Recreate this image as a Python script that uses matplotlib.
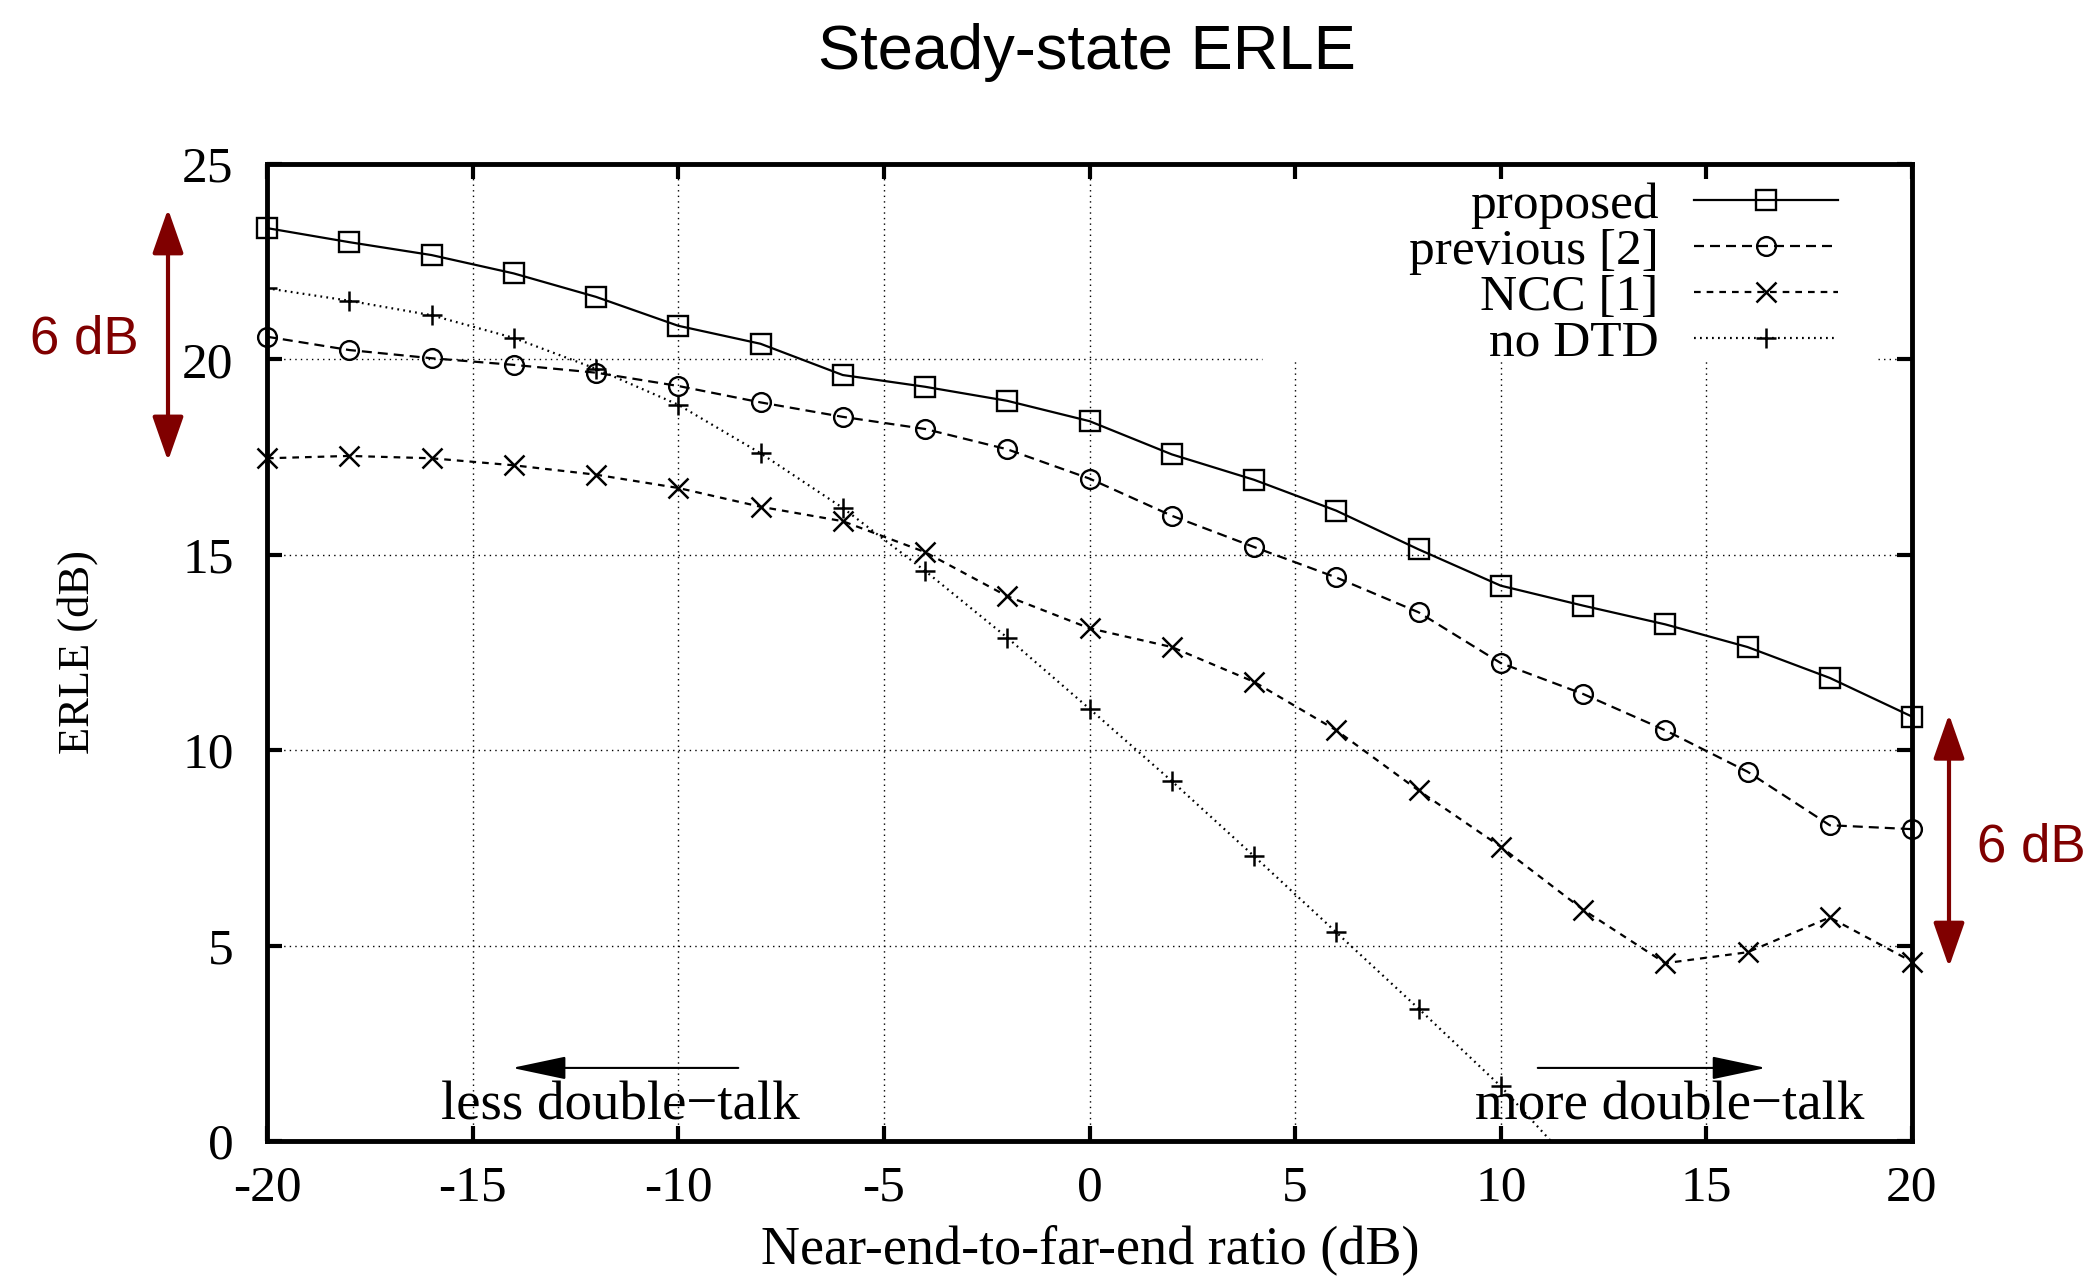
"""
Steady-state ERLE versus near-end-to-far-end ratio.
"""
import matplotlib
matplotlib.use("Agg")
import matplotlib.pyplot as plt
import matplotlib.transforms as mtransforms

# data
ratio = [-20, -18, -16, -14, -12, -10, -8, -6, -4, -2, 0,
         2, 4, 6, 8, 10, 12, 14, 16, 18, 20]
proposed = [23.36, 23.0, 22.67, 22.2, 21.6, 20.86, 20.4, 19.6, 19.3, 18.94, 18.42,
            17.57, 16.92, 16.13, 15.14, 14.21, 13.7, 13.22, 12.64, 11.85, 10.86]
previous = [20.58, 20.24, 20.03, 19.86, 19.66, 19.32, 18.9, 18.53, 18.22, 17.7, 16.95,
            16.0, 15.2, 14.42, 13.53, 12.23, 11.44, 10.51, 9.45, 8.08, 7.98]
ncc = [17.47, 17.53, 17.47, 17.29, 17.05, 16.71, 16.23, 15.86, 15.07, 13.94, 13.12,
       12.64, 11.75, 10.51, 8.97, 7.53, 5.92, 4.55, 4.83, 5.72, 4.59]
no_dtd_ratio = ratio[:17]
no_dtd = [21.82, 21.5, 21.13, 20.55, 19.76, 18.84, 17.6, 16.2, 14.59, 12.88, 11.06,
          9.21, 7.29, 5.34, 3.39, 1.40, -0.9]

xticks = [-20, -15, -10, -5, 0, 5, 10, 15, 20]
yticks = [0, 5, 10, 15, 20, 25]

plt.rcParams['font.family'] = 'Liberation Serif'
plt.rcParams['axes.unicode_minus'] = False

W, H = 2095, 1277
fig = plt.figure(figsize=(W / 100, H / 100), dpi=100)
L, R, T, B = 267, 1912, 164, 1141
ax = fig.add_axes([L / W, 1 - B / H, (R - L) / W, (B - T) / H])
ax.set_xlim(-20, 20)
ax.set_ylim(0, 25)
ax.set_xticks(xticks)
ax.set_yticks(yticks)
ax.tick_params(direction='in', length=11, width=3, top=True, right=True,
               labelsize=37)
ax.tick_params(axis='x', pad=17)
ax.tick_params(axis='y', pad=24)
for s in ax.spines.values():
    s.set_linewidth(3.5)

# grid, with the gap left for the key
gkw = dict(colors='k', lw=1.0, linestyles=(0, (1, 3)), zorder=1)
ax.vlines([-15, -10, -5, 0], 0, 25, **gkw)
ax.vlines([5, 10, 15], 0, 20, **gkw)
ax.hlines([5, 10, 15], -20, 20, **gkw)
ax.hlines(20, -20, 4.2, **gkw)
ax.hlines(20, 19.17, 20, **gkw)

ax.plot(ratio, proposed, color='k', lw=1.6, marker='s', ms=14, mfc='none',
        mew=1.7, clip_on=False, label='proposed', zorder=3)
ax.plot(ratio, previous, color='k', lw=1.6, ls=(0, (4.5, 2.7)), marker='o', ms=13.5,
        mfc='none', mew=1.7, clip_on=False, label='previous [2]', zorder=3)
ax.plot(ratio, ncc, color='k', lw=1.6, ls=(0, (3.0, 2.7)), marker='x', ms=14,
        mew=1.8, clip_on=False, label='NCC [1]', zorder=3)
ax.plot(no_dtd_ratio, no_dtd, color='k', lw=1.6, ls=(0, (0.8, 1.9)), marker='+',
        ms=14, mew=1.8, label='no DTD', zorder=3)

leg = ax.legend(loc='upper right', bbox_to_anchor=(1864 / W, 1 - 156 / H),
                bbox_transform=fig.transFigure, frameon=False, markerfirst=False,
                fontsize=37, handlelength=2.8, handletextpad=0.7,
                labelspacing=-0.02, borderpad=0, numpoints=1)

# direction hints
ax.annotate('', xy=(-14.04, 1.87), xytext=(-8.54, 1.87),
            arrowprops=dict(arrowstyle='-|>,head_length=1.7,head_width=0.36',
                            color='k', lw=1.5, shrinkA=0, shrinkB=0,
                            mutation_scale=20))
ax.annotate('', xy=(16.45, 1.87), xytext=(10.9, 1.87),
            arrowprops=dict(arrowstyle='-|>,head_length=1.7,head_width=0.36',
                            color='k', lw=1.5, shrinkA=0, shrinkB=0,
                            mutation_scale=20))
ax.text(-11.41, 0.54, 'less double\u2212talk', fontsize=39.5, ha='center',
        va='baseline')
ax.text(14.11, 0.54, 'more double\u2212talk', fontsize=39.5, ha='center',
        va='baseline')

# 6 dB markers outside the axes
red = '#800000'
trans = mtransforms.blended_transform_factory(fig.transFigure, ax.transData)
for xf, y0, y1, xt, yt in [(168 / W, 17.4, 23.85, 84 / W, 20.14),
                           (1949 / W, 4.45, 10.92, 2031 / W, 7.14)]:
    ax.annotate('', xy=(xf, y1), xytext=(xf, y0),
                xycoords=('figure fraction', 'data'),
                arrowprops=dict(arrowstyle='<|-|>,head_length=1.37,head_width=0.48',
                                color=red, lw=3, shrinkA=0, shrinkB=0,
                                mutation_scale=20),
                annotation_clip=False)
    ax.text(xt, yt, '6 dB', transform=trans, color=red, fontsize=38,
            family='Liberation Sans', ha='center', va='baseline', clip_on=False)

fig.text(1087 / W, 1 - 53 / H, 'Steady-state ERLE', fontsize=45.5,
         family='Liberation Sans', ha='center', va='center')
fig.text(1090 / W, 1 - 1250 / H, 'Near-end-to-far-end ratio (dB)', fontsize=39,
         ha='center', va='center')
fig.text(78 / W, 1 - 652 / H, 'ERLE (dB)', fontsize=32, rotation=90,
         ha='center', va='center')

fig.savefig('out.png', dpi=100)
